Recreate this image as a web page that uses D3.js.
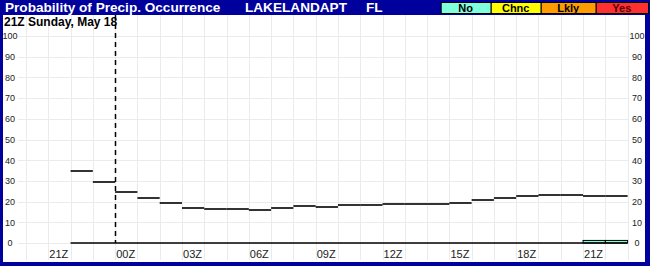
<!DOCTYPE html>
<html>
<head>
<meta charset="utf-8">
<script src="https://cdn.jsdelivr.net/npm/d3@7"></script>
<style>
  body { margin: 0; background: #fff; }
  svg { display: block; font-family: "Liberation Sans", Arial, sans-serif; }
</style>
</head>
<body>
<div id="chart"></div>
<script>
// hours counted from 21Z Sunday; each value covers [hour, hour+1]
var hours = [1, 2, 3, 4, 5, 6, 7, 8, 9, 10, 11, 12, 13, 14, 15, 16, 17, 18, 19, 20, 21, 22, 23, 24, 25],
    popValues = [35, 29.5, 24.5, 21.7, 19.3, 16.8, 16.3, 16.3, 15.8, 16.7, 17.7, 17.2, 18.2, 18.2,
                 18.8, 18.8, 18.8, 19.2, 20.6, 21.6, 22.5, 23, 23, 22.5, 22.5],
    noValues = [0, 0, 0, 0, 0, 0, 0, 0, 0, 0, 0, 0, 0, 0, 0, 0, 0, 0, 0, 0, 0, 0, 0, 1, 1],
    tickHours = [0, 3, 6, 9, 12, 15, 18, 21, 24],
    tickLabels = ["21Z", "00Z", "03Z", "06Z", "09Z", "12Z", "15Z", "18Z", "21Z"],
    yTicks = [0, 10, 20, 30, 40, 50, 60, 70, 80, 90, 100],
    legendNames = ["No", "Chnc", "Lkly", "Yes"],
    legendColors = ["#80ffdc", "#ffff00", "#ff9c00", "#ff3030"];

var width = 650, height = 266,
    blue = "#00009c";

var x = d3.scaleLinear().domain([-1, 26]).range([26, 627.6]);
var y = d3.scaleLinear().domain([0, 100]).range([243, 36]);

var svg = d3.select("#chart").append("svg")
    .attr("width", width)
    .attr("height", height);

// frame + title bar
svg.append("rect").attr("width", width).attr("height", height).attr("fill", blue);
svg.append("rect")
    .attr("x", 3).attr("y", 15)
    .attr("width", 642).attr("height", 247)
    .attr("fill", "#fff");

svg.append("text")
    .attr("x", 5).attr("y", 12)
    .attr("fill", "#fff")
    .style("font-size", "13.6px").style("font-weight", "bold")
    .text("Probability of Precip. Occurrence");
svg.append("text")
    .attr("x", 245).attr("y", 12)
    .attr("fill", "#fff")
    .style("font-size", "13.6px").style("font-weight", "bold")
    .text("LAKELANDAPT");
svg.append("text")
    .attr("x", 366).attr("y", 12)
    .attr("fill", "#fff")
    .style("font-size", "13.6px").style("font-weight", "bold")
    .text("FL");

// legend
var legendX = [440.7, 490.7, 540.7, 595.7, 648];
var leg = svg.selectAll(".leg")
    .data(legendNames)
  .enter().append("g")
    .attr("class", "leg");
leg.append("rect")
    .attr("x", function(d, i) { return legendX[i] + 0.5; })
    .attr("y", 2.5)
    .attr("width", function(d, i) { return legendX[i + 1] - legendX[i]; })
    .attr("height", 11)
    .attr("fill", function(d, i) { return legendColors[i]; })
    .attr("stroke", "#000");
leg.append("text")
    .attr("x", function(d, i) { return (legendX[i] + legendX[i + 1]) / 2; })
    .attr("y", 12)
    .attr("text-anchor", "middle")
    .style("font-size", "11px").style("font-weight", "bold")
    .attr("fill", function(d, i) { return i == 3 ? "#5a0000" : "#000"; })
    .text(function(d) { return d; });

// grid
svg.append("g")
    .selectAll("line")
    .data(d3.range(-1, 27))
  .enter().append("line")
    .attr("x1", function(d) { return Math.round(x(d)) + 0.5; })
    .attr("x2", function(d) { return Math.round(x(d)) + 0.5; })
    .attr("y1", 15).attr("y2", 260)
    .attr("stroke", "#ebebeb");
svg.append("g")
    .selectAll("line")
    .data(yTicks)
  .enter().append("line")
    .attr("x1", 18).attr("x2", 628)
    .attr("y1", function(d) { return Math.round(y(d)) + 0.5; })
    .attr("y2", function(d) { return Math.round(y(d)) + 0.5; })
    .attr("stroke", "#ebebeb");

svg.append("text")
    .attr("x", 4).attr("y", 26)
    .style("font-size", "12px").style("font-weight", "bold")
    .text("21Z Sunday, May 18");

// axes (labels only)
var yLeft = svg.append("g")
    .attr("transform", "translate(10,0)")
    .call(d3.axisLeft(y).tickValues(yTicks).tickSize(0).tickPadding(0));
var yRight = svg.append("g")
    .attr("transform", "translate(637,0)")
    .call(d3.axisRight(y).tickValues(yTicks).tickSize(0).tickPadding(0));
var xAxis = svg.append("g")
    .attr("transform", "translate(0,250.5)")
    .call(d3.axisBottom(x).tickValues(tickHours.map(function(h) { return h + 0.45; }))
      .tickFormat(function(d, i) { return tickLabels[i]; })
      .tickSize(0).tickPadding(0));

[yLeft, yRight, xAxis].forEach(function(g) {
  g.select(".domain").remove();
  g.selectAll("text").attr("fill", "#222").style("font-family", "inherit");
});
yLeft.selectAll("text").attr("text-anchor", "middle").attr("x", 0).style("font-size", "9px");
yRight.selectAll("text").attr("text-anchor", "middle").attr("x", 0).style("font-size", "9px");
xAxis.selectAll("text").style("font-size", "11px");

// "No" bars near zero
svg.append("g")
    .selectAll("rect")
    .data(hours.filter(function(h, i) { return noValues[i] > 0; }))
  .enter().append("rect")
    .attr("x", function(h) { return x(h); })
    .attr("width", function(h) { return x(h + 1) - x(h); })
    .attr("y", function(h) { return y(noValues[hours.indexOf(h)]) - 0.5; })
    .attr("height", function(h) { return y(0) - y(noValues[hours.indexOf(h)]) + 0.5; })
    .attr("fill", legendColors[0])
    .attr("stroke", "#000")
    .attr("stroke-width", 1);

// zero baseline
svg.append("line")
    .attr("x1", x(hours[0])).attr("x2", x(hours[hours.length - 1] + 1))
    .attr("y1", y(0)).attr("y2", y(0))
    .attr("stroke", "#000").attr("stroke-width", 1.5);

// PoP step segments
svg.append("g")
    .selectAll("line")
    .data(hours)
  .enter().append("line")
    .attr("x1", function(h) { return x(h); })
    .attr("x2", function(h) { return x(h + 1); })
    .attr("y1", function(h, i) { return Math.round(y(popValues[i])); })
    .attr("y2", function(h, i) { return Math.round(y(popValues[i])); })
    .attr("stroke", "#000")
    .attr("stroke-width", 1.6);

// 00Z marker
svg.append("line")
    .attr("x1", Math.round(x(3)) + 0.5).attr("x2", Math.round(x(3)) + 0.5)
    .attr("y1", 15).attr("y2", y(0))
    .attr("stroke", "#000")
    .attr("stroke-width", 1.5)
    .attr("stroke-dasharray", "5,4");
</script>
</body>
</html>
